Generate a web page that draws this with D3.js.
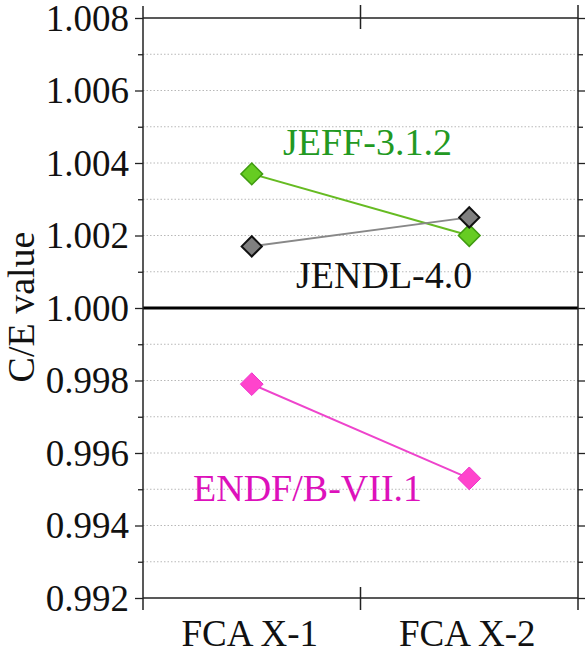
<!DOCTYPE html>
<html>
<head>
<meta charset="utf-8">
<script src="https://cdn.jsdelivr.net/npm/d3@7"></script>
</head>
<body style="margin:0">
<svg id="chart" width="587" height="651"></svg>
<script>
// Benchmark cores and C/E values per nuclear data library
const cores = ["FCA X-1", "FCA X-2"];
const jeffValues = [1.0037, 1.0020];
const jendlValues = [1.0017, 1.0025];
const endfValues = [0.9979, 0.9953];
const seriesNames = ["JEFF-3.1.2", "JENDL-4.0", "ENDF/B-VII.1"];
const majorTicks = [0.992, 0.994, 0.996, 0.998, 1.000, 1.002, 1.004, 1.006, 1.008];
const minorTicks = [0.993, 0.995, 0.997, 0.999, 1.001, 1.003, 1.005, 1.007];

const serifFont = "Liberation Serif";
const svg = d3.select("#chart");
const plotLeft = 143, plotRight = 578, plotTop = 18, plotBottom = 598;

const x = d3.scaleBand().domain(cores).range([plotLeft, plotRight]).padding(0);
const y = d3.scaleLinear().domain([0.992, 1.008]).range([plotBottom, plotTop]);

// dotted grid at every 0.001 (the unity line is drawn separately)
const gridVals = majorTicks.concat(minorTicks)
  .filter(v => Math.abs(v - 1) > 1e-9 && v > 0.9925 && v < 1.0075);
svg.append("g").selectAll("line").data(gridVals).join("line")
  .attr("x1", plotLeft).attr("x2", plotRight)
  .attr("y1", d => y(d)).attr("y2", d => y(d))
  .attr("stroke", "#b8b8b8").attr("stroke-width", 1)
  .attr("stroke-dasharray", "1.5,2");

// unity reference line
svg.append("line")
  .attr("x1", plotLeft).attr("x2", plotRight)
  .attr("y1", y(1)).attr("y2", y(1))
  .attr("stroke", "#000").attr("stroke-width", 3);

// tick marks (labels are written separately below)
const gl = svg.append("g").attr("transform", `translate(${plotLeft},0)`)
  .call(d3.axisLeft(y).tickValues(majorTicks).tickSize(8).tickFormat(""));
const glm = svg.append("g").attr("transform", `translate(${plotLeft},0)`)
  .call(d3.axisLeft(y).tickValues(minorTicks).tickSize(5).tickFormat(""));
const gr = svg.append("g").attr("transform", `translate(${plotRight},0)`)
  .call(d3.axisRight(y).tickValues(majorTicks).tickSize(7).tickFormat(""));
const grm = svg.append("g").attr("transform", `translate(${plotRight},0)`)
  .call(d3.axisRight(y).tickValues(minorTicks).tickSize(5).tickFormat(""));
[gl, glm, gr, grm].forEach(g => {
  g.select(".domain").remove();
  g.selectAll(".tick text").remove();
  g.selectAll(".tick line").attr("stroke", "#222").attr("stroke-width", 1.3);
});

// y tick labels
const fmt = d3.format(".3f");
svg.append("g").selectAll("text").data(majorTicks).join("text")
  .attr("x", plotLeft - 14)
  .attr("y", d => y(d))
  .attr("dy", "0.34em")
  .attr("text-anchor", "end")
  .attr("fill", "#111")
  .attr("font-family", serifFont)
  .attr("font-size", 37)
  .text(d => fmt(d));

// frame
const frame = svg.append("g").attr("stroke", "#222").attr("stroke-width", 1.5);
frame.append("line").attr("x1", plotLeft).attr("x2", plotLeft).attr("y1", 6).attr("y2", 610);
frame.append("line").attr("x1", plotRight).attr("x2", plotRight).attr("y1", 5).attr("y2", 610);
frame.append("line").attr("x1", plotLeft).attr("x2", plotRight).attr("y1", plotTop).attr("y2", plotTop);
frame.append("line").attr("x1", plotLeft).attr("x2", plotRight).attr("y1", plotBottom).attr("y2", plotBottom);

// category separator ticks on top and bottom edges
const sep = x(cores[1]);
frame.append("line").attr("x1", sep).attr("x2", sep).attr("y1", 5).attr("y2", 29);
frame.append("line").attr("x1", sep).attr("x2", sep).attr("y1", 587).attr("y2", 610);

// category labels
svg.append("g").selectAll("text").data(cores).join("text")
  .attr("x", d => x(d) + x.bandwidth() / 2 - 2)
  .attr("y", 646)
  .attr("text-anchor", "middle")
  .attr("fill", "#111")
  .attr("font-family", serifFont)
  .attr("font-size", 37)
  .text(d => d);

// y axis title
svg.append("text")
  .attr("transform", `translate(34,307) rotate(-90)`)
  .attr("text-anchor", "middle")
  .attr("fill", "#111")
  .attr("font-family", serifFont)
  .attr("font-size", 38)
  .text("C/E value");

// series
const cx = d => x(d) + x.bandwidth() / 2;
const series = [
  { name: seriesNames[0], values: jeffValues, line: "#66bb22", fill: "#66cc22", stroke: "#3f9a10", sw: 1.5, size: 300, label: "#229922", lx: 283, ly: 155 },
  { name: seriesNames[1], values: jendlValues, line: "#888888", fill: "#808080", stroke: "#111", sw: 2, size: 260, label: "#111", lx: 296, ly: 288 },
  { name: seriesNames[2], values: endfValues, line: "#ee44cc", fill: "#ff44cc", stroke: "#ee33cc", sw: 1, size: 330, label: "#dd11bb", lx: 193, ly: 501 }
];
const lineGen = d3.line().x((d, i) => cx(cores[i])).y(d => y(d));
const diamond = d3.symbol().type(d3.symbolDiamond2);

series.forEach(s => {
  const g = svg.append("g");
  g.append("path").datum(s.values)
    .attr("d", lineGen)
    .attr("fill", "none").attr("stroke", s.line).attr("stroke-width", 2);
  g.selectAll("path.pt").data(s.values).join("path")
    .attr("class", "pt")
    .attr("transform", (d, i) => `translate(${cx(cores[i])},${y(d)})`)
    .attr("d", diamond.size(s.size))
    .attr("fill", s.fill).attr("stroke", s.stroke).attr("stroke-width", s.sw);
  svg.append("text")
    .attr("x", s.lx).attr("y", s.ly)
    .attr("fill", s.label)
    .attr("font-family", serifFont)
    .attr("font-size", 38)
    .text(s.name);
});
</script>
</body>
</html>
